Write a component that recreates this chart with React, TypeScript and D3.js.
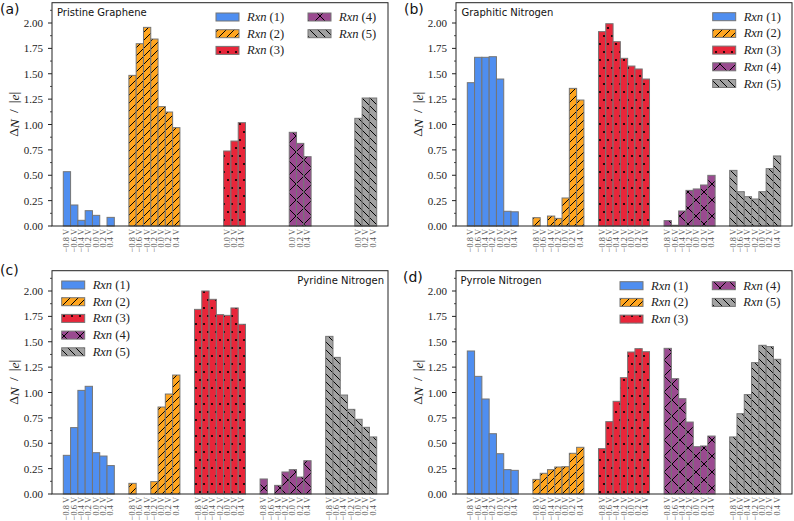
import React from 'react';
import * as d3 from 'd3';

const potentials = ["\u22120.8 V", "\u22120.6 V", "\u22120.4 V", "\u22120.2 V", "0.0 V", "0.2 V", "0.4 V"];
const rxnNames = ["(1)", "(2)", "(3)", "(4)", "(5)"];
const panelLabels = ["(a)", "(b)", "(c)", "(d)"];
const panelTitles = ["Pristine Graphene", "Graphitic Nitrogen", "Pyridine Nitrogen", "Pyrrole Nitrogen"];
const yTicks = [0, 0.25, 0.5, 0.75, 1.0, 1.25, 1.5, 1.75, 2.0];
const yMinorTicks = [0.125, 0.375, 0.625, 0.875, 1.125, 1.375, 1.625, 1.875, 2.125];

type V = number | null;
// Panel (a) Pristine Graphene
const rxn1A: V[] = [0.535, 0.207, 0.056, 0.151, 0.105, 0, 0.085];
const rxn2A: V[] = [1.484, 1.796, 1.957, 1.842, 1.176, 1.123, 0.969];
const rxn3A: V[] = [null, null, null, null, 0.739, 0.837, 1.018];
const rxn4A: V[] = [null, null, null, null, 0.923, 0.814, 0.683];
const rxn5A: V[] = [null, null, null, null, 1.061, 1.261, 1.261];
// Panel (b) Graphitic Nitrogen
const rxn1B: V[] = [1.412, 1.662, 1.662, 1.668, 1.448, 0.145, 0.14];
const rxn2B: V[] = [0.082, 0, 0.098, 0.075, 0.276, 1.356, 1.241];
const rxn3B: V[] = [1.915, 1.993, 1.816, 1.652, 1.576, 1.547, 1.448];
const rxn4B: V[] = [0.053, 0.007, 0.148, 0.351, 0.365, 0.404, 0.499];
const rxn5B: V[] = [0.548, 0.338, 0.289, 0.266, 0.338, 0.565, 0.69];
// Panel (c) Pyridine Nitrogen
const rxn1C: V[] = [0.381, 0.654, 1.021, 1.061, 0.407, 0.374, 0.28];
const rxn2C: V[] = [0.105, 0, 0, 0.122, 0.857, 0.985, 1.172];
const rxn3C: V[] = [1.819, 2.0, 1.918, 1.767, 1.76, 1.833, 1.672];
const rxn4C: V[] = [0.148, 0, 0.085, 0.217, 0.24, 0.167, 0.328];
const rxn5C: V[] = [1.553, 1.346, 0.975, 0.834, 0.736, 0.657, 0.562];
// Panel (d) Pyrrole Nitrogen
const rxn1D: V[] = [1.409, 1.159, 0.936, 0.594, 0.397, 0.24, 0.233];
const rxn2D: V[] = [0.144, 0.204, 0.24, 0.266, 0.269, 0.401, 0.46];
const rxn3D: V[] = [0.447, 0.713, 0.913, 1.146, 1.399, 1.432, 1.402];
const rxn4D: V[] = [1.435, 1.136, 0.939, 0.709, 0.466, 0.473, 0.571];
const rxn5D: V[] = [0.562, 0.791, 0.979, 1.294, 1.465, 1.452, 1.327];

const panelData: V[][][] = [
  [rxn1A, rxn2A, rxn3A, rxn4A, rxn5A],
  [rxn1B, rxn2B, rxn3B, rxn4B, rxn5B],
  [rxn1C, rxn2C, rxn3C, rxn4C, rxn5C],
  [rxn1D, rxn2D, rxn3D, rxn4D, rxn5D],
];

const colors = ["#4f8ef0", "#ffa51f", "#e8263a", "#9a4a90", "#a2a2a2"];
const hatchIds = ["", "h-fwd", "h-dots", "h-cross", "h-back"];
const EDGE = "#757575";

const W = 336;
const H = 223.3;
const boxes = [
  { x: 52, y: 2.7 },
  { x: 456, y: 2.7 },
  { x: 52, y: 270.7 },
  { x: 456, y: 270.7 },
];
const labelPos = [
  { x: 0, y: 9 },
  { x: 404, y: 9 },
  { x: 0, y: 270 },
  { x: 403, y: 277 },
];
const titlePos = [
  { x: 57, y: 12.5, anchor: "start" },
  { x: 461.5, y: 12.5, anchor: "start" },
  { x: 384, y: 280, anchor: "end" },
  { x: 460.5, y: 280, anchor: "start" },
];
const ROW = 16.7;
const legendPos: { x: number; y: number }[][] = [
  [{ x: 216, y: 17 }, { x: 216, y: 17 + ROW }, { x: 216, y: 17 + 2 * ROW }, { x: 308, y: 17 }, { x: 308, y: 17 + ROW }],
  [0, 1, 2, 3, 4].map((i) => ({ x: 712.7, y: 16.7 + i * ROW })),
  [0, 1, 2, 3, 4].map((i) => ({ x: 61.7, y: 285 + i * ROW })),
  [{ x: 620, y: 285.7 }, { x: 620, y: 285.7 + ROW }, { x: 620, y: 285.7 + 2 * ROW }, { x: 712.3, y: 285.7 }, { x: 712.3, y: 285.7 + ROW }],
];

const serif = "'Liberation Serif', 'DejaVu Serif', serif";
const sans = "'DejaVu Sans', 'Liberation Sans', sans-serif";

function Panel({ idx }: { idx: number }) {
  const box = boxes[idx];
  const x = d3.scaleLinear().domain([-2.05, 44.05]).range([box.x, box.x + W]);
  const y = d3.scaleLinear().domain([0, 2.2]).range([box.y + H, box.y]);
  const bw = x(1) - x(0);
  const data = panelData[idx];
  const bottom = y(0);
  return (
    <g>
      {data.map((series, g) =>
        series.map((v, k) => {
          if (v === null) return null;
          const cx = g * 9 + k;
          const x0 = x(cx - 0.5);
          const yt = y(v);
          const h = bottom - yt;
          return (
            <g key={`b${g}-${k}`}>
              <rect x={x0} y={yt} width={bw} height={h} fill={colors[g]} />
              {hatchIds[g] && <rect x={x0} y={yt} width={bw} height={h} fill={`url(#${hatchIds[g]})`} />}
              {h > 0.3 && (
                <rect x={x0} y={yt} width={bw} height={h} fill="none" stroke={EDGE} strokeWidth={1} />
              )}
            </g>
          );
        })
      )}
      {/* x tick labels */}
      {data.map((series, g) =>
        series.map((v, k) => {
          if (v === null) return null;
          const cx = x(g * 9 + k);
          const ty = bottom + 3;
          return (
            <text
              key={`t${g}-${k}`}
              x={cx}
              y={ty}
              transform={`rotate(-90 ${cx} ${ty})`}
              textAnchor="end"
              dominantBaseline="central"
              fontFamily={serif}
              fontSize={8.4}
              fill="#555"
            >
              {potentials[k]}
            </text>
          );
        })
      )}
      {/* frame */}
      <rect x={box.x} y={box.y} width={W} height={H} fill="none" stroke="#222" strokeWidth={1} />
      {/* y ticks */}
      {yTicks.map((t) => (
        <g key={`y${t}`}>
          <line x1={box.x - 4} x2={box.x} y1={y(t)} y2={y(t)} stroke="#222" strokeWidth={1} />
          <text
            x={box.x - 9}
            y={y(t)}
            textAnchor="end"
            dominantBaseline="central"
            fontFamily={serif}
            fontSize={11}
            fill="#222"
          >
            {d3.format(".2f")(t)}
          </text>
        </g>
      ))}
      {yMinorTicks.map((t) => (
        <line key={`m${t}`} x1={box.x - 2} x2={box.x} y1={y(t)} y2={y(t)} stroke="#222" strokeWidth={0.8} />
      ))}
      {/* y label */}
      <text
        transform={`translate(${box.x - 38.5},${box.y + H / 2}) rotate(-90)`}
        textAnchor="middle"
        dominantBaseline="central"
        fontFamily={serif}
        fontSize={13.5}
        fill="#222"
      >
        {"\u0394"}
        <tspan fontStyle="italic">N</tspan>
        {"\u2009 / \u2009|"}
        <tspan fontStyle="italic">e</tspan>
        {"|"}
      </text>
      {/* title */}
      <text
        x={titlePos[idx].x}
        y={titlePos[idx].y}
        textAnchor={titlePos[idx].anchor as any}
        dominantBaseline="central"
        fontFamily={sans}
        fontSize={10}
        fill="#111"
      >
        {panelTitles[idx]}
      </text>
      {/* panel label */}
      <text
        x={labelPos[idx].x}
        y={labelPos[idx].y}
        dominantBaseline="central"
        fontFamily={sans}
        fontSize={14}
        fill="#111"
      >
        {panelLabels[idx]}
      </text>
      {/* legend */}
      {legendPos[idx].map((p, i) => (
        <g key={`l${i}`}>
          <rect x={p.x} y={p.y - 4} width={23} height={8} fill={colors[i]} />
          {hatchIds[i] && <rect x={p.x} y={p.y - 4} width={23} height={8} fill={`url(#${hatchIds[i]})`} />}
          <rect x={p.x} y={p.y - 4} width={23} height={8} fill="none" stroke={EDGE} strokeWidth={1} />
          <text
            x={p.x + 31}
            y={p.y}
            dominantBaseline="central"
            fontFamily={serif}
            fontSize={12.5}
            fill="#222"
          >
            <tspan fontStyle="italic">Rxn</tspan>
            {" " + rxnNames[i]}
          </text>
        </g>
      ))}
    </g>
  );
}

export default function App() {
  return (
    <svg
      width={794}
      height={521}
      style={{ position: "absolute", left: 0, top: 0, background: "#fff" }}
    >
      <defs>
        <pattern id="h-fwd" patternUnits="userSpaceOnUse" width={8} height={8}>
          <path d="M-2,2 L2,-2 M0,8 L8,0 M6,10 L10,6" stroke="#000" strokeWidth={1} />
        </pattern>
        <pattern id="h-back" patternUnits="userSpaceOnUse" width={8} height={8}>
          <path d="M-2,6 L2,10 M0,0 L8,8 M6,-2 L10,2" stroke="#000" strokeWidth={1} />
        </pattern>
        <pattern id="h-cross" patternUnits="userSpaceOnUse" width={16} height={16}>
          <path d="M0,0 L16,16 M0,16 L16,0" stroke="#000" strokeWidth={1} />
        </pattern>
        <pattern id="h-dots" patternUnits="userSpaceOnUse" width={8} height={16}>
          <circle cx={4} cy={4} r={1.1} fill="#000" />
          <circle cx={0} cy={12} r={1.1} fill="#000" />
          <circle cx={8} cy={12} r={1.1} fill="#000" />
        </pattern>
      </defs>
      <rect x={0} y={0} width={794} height={521} fill="#fff" />
      {[0, 1, 2, 3].map((i) => (
        <Panel key={i} idx={i} />
      ))}
    </svg>
  );
}
